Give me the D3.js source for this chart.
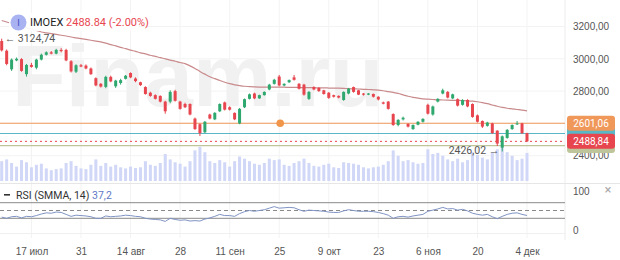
<!DOCTYPE html>
<head>
    <meta charset="utf-8">
    <script src="https://d3js.org/d3.v7.min.js"></script>
    <style>
        body { margin: 0; background: #fff; }
        svg { display: block; font-family: Roboto, "Noto Sans", sans-serif; }
        .axis text { fill: #555; font-size: 10px; }
        .axis path, .axis line { display: none; }
    </style>
</head>

<body>
    <svg id="chart" width="620" height="260"></svg>
</body>
<script>
    // trading days, IMOEX daily
    var dates = [
        "2024-07-09","2024-07-10","2024-07-11","2024-07-12","2024-07-15","2024-07-16","2024-07-17","2024-07-18","2024-07-19",
        "2024-07-22","2024-07-23","2024-07-24","2024-07-25","2024-07-26","2024-07-29","2024-07-30","2024-07-31",
        "2024-08-01","2024-08-02","2024-08-05","2024-08-06","2024-08-07","2024-08-08","2024-08-09","2024-08-12",
        "2024-08-13","2024-08-14","2024-08-15","2024-08-16","2024-08-19","2024-08-20","2024-08-21","2024-08-22",
        "2024-08-23","2024-08-26","2024-08-27","2024-08-28","2024-08-29","2024-08-30",
        "2024-09-02","2024-09-03","2024-09-04","2024-09-05","2024-09-06","2024-09-09","2024-09-10","2024-09-11",
        "2024-09-12","2024-09-13","2024-09-16","2024-09-17","2024-09-18","2024-09-19","2024-09-20","2024-09-23",
        "2024-09-24","2024-09-25","2024-09-26","2024-09-27","2024-09-30",
        "2024-10-01","2024-10-02","2024-10-03","2024-10-04","2024-10-07","2024-10-08","2024-10-09","2024-10-10",
        "2024-10-11","2024-10-14","2024-10-15","2024-10-16","2024-10-17","2024-10-18","2024-10-21","2024-10-22",
        "2024-10-23","2024-10-24","2024-10-25","2024-10-28","2024-10-29","2024-10-30","2024-10-31",
        "2024-11-01","2024-11-02","2024-11-05","2024-11-06","2024-11-07","2024-11-08","2024-11-11","2024-11-12",
        "2024-11-13","2024-11-14","2024-11-15","2024-11-18","2024-11-19","2024-11-20","2024-11-21","2024-11-22",
        "2024-11-25","2024-11-26","2024-11-27","2024-11-28","2024-11-29",
        "2024-12-02","2024-12-03","2024-12-04"
    ]
    var open = [
        3110, 3050, 2935, 2990, 2998, 2905, 2962, 2945, 2995, 3025,
        3040, 3032, 3055, 3055, 2985, 2920, 2960, 2958, 2940, 2880,
        2845, 2826, 2888, 2830, 2850, 2876, 2912, 2878, 2855, 2825,
        2790, 2775, 2770, 2735, 2735, 2800, 2735, 2720, 2720, 2630,
        2595, 2545, 2655, 2625, 2675, 2730, 2700, 2665, 2600, 2700,
        2752, 2785, 2755, 2775, 2810, 2845, 2890, 2835, 2855, 2885,
        2845, 2840, 2752, 2825, 2820, 2805, 2790, 2775, 2770, 2745,
        2785, 2825, 2805, 2785, 2778, 2782, 2765, 2730, 2735, 2658,
        2590, 2625, 2597, 2565, 2592, 2610, 2715, 2655, 2735, 2785,
        2795, 2755, 2750, 2715, 2745, 2720, 2650, 2615, 2585, 2600,
        2555, 2450, 2510, 2565, 2595, 2600, 2539.63
    ]
    var high = [
        3124.74, 3058, 3002, 3008, 3004, 2968, 2975, 3000, 3032, 3046,
        3048, 3062, 3066, 3062, 2992, 2966, 2968, 2965, 2946, 2885,
        2850, 2895, 2896, 2870, 2876, 2900, 2916, 2885, 2858, 2830,
        2796, 2780, 2774, 2740, 2805, 2808, 2740, 2728, 2724, 2636,
        2600, 2615, 2660, 2670, 2724, 2735, 2706, 2668, 2695, 2754,
        2785, 2790, 2778, 2798, 2845, 2876, 2900, 2848, 2872, 2900,
        2850, 2845, 2800, 2830, 2824, 2808, 2794, 2778, 2774, 2798,
        2820, 2828, 2808, 2788, 2788, 2785, 2768, 2735, 2738, 2662,
        2626, 2642, 2600, 2594, 2614, 2632, 2722, 2710, 2756, 2815,
        2800, 2784, 2755, 2750, 2750, 2724, 2655, 2618, 2610, 2604,
        2558, 2525, 2565, 2594, 2615, 2604, 2542
    ]
    var low = [
        3045, 2960, 2925, 2985, 2920, 2890, 2945, 2935, 2990, 3020,
        3028, 3028, 3040, 2985, 2915, 2912, 2948, 2935, 2900, 2830,
        2822, 2818, 2855, 2820, 2840, 2872, 2880, 2855, 2832, 2778,
        2765, 2748, 2730, 2660, 2725, 2735, 2685, 2695, 2650, 2560,
        2522, 2540, 2625, 2620, 2670, 2680, 2680, 2620, 2595, 2695,
        2748, 2750, 2752, 2772, 2805, 2840, 2830, 2830, 2850, 2865,
        2810, 2772, 2745, 2805, 2795, 2778, 2752, 2760, 2755, 2740,
        2780, 2790, 2775, 2772, 2775, 2760, 2742, 2718, 2685, 2585,
        2582, 2618, 2575, 2560, 2588, 2605, 2655, 2648, 2730, 2780,
        2755, 2750, 2705, 2710, 2700, 2635, 2605, 2572, 2580, 2535,
        2460, 2426.02, 2505, 2560, 2590, 2535, 2485
    ]
    var close = [
        3052, 2968, 2995, 3000, 2925, 2962, 2950, 2995, 3025, 3040,
        3032, 3055, 3048, 2990, 2922, 2960, 2952, 2940, 2905, 2835,
        2828, 2888, 2860, 2865, 2868, 2895, 2885, 2862, 2837, 2782,
        2770, 2752, 2735, 2675, 2795, 2740, 2690, 2700, 2655, 2565,
        2540, 2610, 2630, 2665, 2720, 2685, 2685, 2625, 2690, 2750,
        2780, 2755, 2775, 2795, 2840, 2870, 2835, 2845, 2868, 2870,
        2815, 2778, 2795, 2810, 2800, 2782, 2758, 2765, 2760, 2795,
        2815, 2795, 2778, 2778, 2785, 2765, 2748, 2722, 2690, 2590,
        2622, 2635, 2580, 2590, 2610, 2628, 2660, 2705, 2752, 2805,
        2760, 2780, 2710, 2745, 2705, 2640, 2610, 2580, 2605, 2540,
        2475, 2520, 2560, 2590, 2600, 2539.63, 2488.84
    ]
    // volume, bln rub
    var volume = [
        55, 60, 50, 40, 58, 52, 38, 45, 48, 35,
        30, 33, 35, 50, 55, 42, 35, 33, 45, 60,
        42, 50, 40, 45, 38, 35, 40, 36, 38, 55,
        45, 42, 50, 75, 60, 52, 48, 40, 55, 85,
        95, 80, 55, 50, 58, 52, 40, 55, 68, 62,
        55, 48, 45, 50, 62, 58, 60, 45, 42, 50,
        55, 62, 50, 42, 40, 45, 48, 38, 36, 52,
        50, 48, 45, 38, 35, 38, 40, 45, 55, 85,
        70, 55, 58, 52, 48, 50, 88, 75, 78, 70,
        60, 55, 62, 52, 58, 80, 72, 65, 60, 80,
        88, 95, 80, 70, 58, 62, 78
    ]
    // moving average
    var ma = [
        3237, 3228, 3219, 3210, 3201, 3193, 3184, 3175, 3166, 3161,
        3156, 3151, 3146, 3141, 3135, 3130, 3125, 3120, 3115, 3110,
        3105, 3097, 3088, 3080, 3071, 3063, 3054, 3046, 3037, 3030,
        3022, 3015, 3007, 3000, 2992, 2985, 2977, 2970, 2956, 2940,
        2922, 2905, 2889, 2877, 2866, 2855, 2846, 2839, 2834, 2830,
        2828, 2826, 2825, 2825, 2825, 2825, 2824, 2824, 2823, 2823,
        2822, 2822, 2821, 2821, 2820, 2820, 2819, 2818, 2818, 2817,
        2815, 2814, 2813, 2811, 2810, 2808, 2806, 2802, 2797, 2792,
        2786, 2777, 2768, 2761, 2756, 2752, 2750, 2748, 2746, 2745,
        2744, 2743, 2742, 2741, 2740, 2738, 2734, 2729, 2722, 2714,
        2706, 2699, 2694, 2690, 2686, 2682, 2677
    ]
    // RSI (SMMA, 14)
    var rsi = [
        33, 30, 34, 35, 31, 35, 34, 37, 41, 44,
        43, 46, 45, 40, 35, 38, 37, 36, 34, 30,
        30, 36, 34, 35, 36, 38, 37, 35, 34, 30,
        28, 27, 26, 22, 30, 27, 25, 26, 23, 24,
        23, 28, 31, 35, 40, 37, 37, 35, 42, 47,
        50, 48, 50, 52, 56, 60, 56, 57, 58, 57,
        52, 48, 51, 50, 49, 48, 46, 45, 45, 49,
        52, 50, 48, 48, 48, 47, 45, 42, 38, 30,
        34, 35, 33, 36, 38, 40, 48, 51, 54, 58,
        54, 55, 51, 53, 49, 43, 40, 38, 40, 34,
        29, 35, 40, 43, 44, 40, 37.2
    ]
    var levelValues = [2537.5, 2463, 2601.06]
    var priceTicks = [2400, 2600, 2800, 3000, 3200]
    var rsiTicks = [0, 100]
    var rsiBands = [30, 70]
    var tickDates = ["2024-07-17","2024-07-31","2024-08-14","2024-08-28","2024-09-11","2024-09-25",
        "2024-10-09","2024-10-23","2024-11-06","2024-11-20","2024-12-04"]
    var tickLabels = ["17 июл","31","14 авг","28","11 сен","25","9 окт","23","6 ноя","20","4 дек"]

    var red = "#e8464f", green = "#2fa86f"
    var plotRight = 565
    var ru = d3.formatLocale({decimal: ",", thousands: "", grouping: [3], currency: ["", ""]})
    var fmt = ru.format(".2f")

    var svg = d3.select("#chart")
    var x = d3.scalePoint().domain(dates).range([1.7, 527])
    var y = d3.scaleLinear().domain([2400, 3200]).range([155.7, 26.5])
    var yVol = d3.scaleLinear().domain([0, 100]).range([181, 145])
    var yRsi = d3.scaleLinear().domain([0, 100]).range([230, 191])

    var bars = dates.map(function (d, i) {
        return {date: d, o: open[i], h: high[i], l: low[i], c: close[i], v: volume[i], ma: ma[i], rsi: rsi[i]}
    })

    // grid
    svg.append("g").selectAll("line").data(tickDates).enter().append("line")
        .attr("x1", d => x(d)).attr("x2", d => x(d))
        .attr("y1", 0).attr("y2", 238)
        .attr("stroke", "#f3f3f3")
    svg.append("g").selectAll("line").data(priceTicks).enter().append("line")
        .attr("x1", 0).attr("x2", plotRight)
        .attr("y1", d => y(d)).attr("y2", d => y(d))
        .attr("stroke", "#f3f3f3")

    // watermark
    svg.append("text")
        .attr("x", 12).attr("y", 106)
        .attr("font-family", "Liberation Sans, Arial, sans-serif")
        .attr("font-weight", "bold").attr("font-size", 88)
        .attr("fill", "#f1f1f1")
        .text("Finam.ru")

    svg.append("line").attr("x1", plotRight).attr("x2", plotRight).attr("y1", 0).attr("y2", 240).attr("stroke", "#ececec")
    svg.append("line").attr("x1", 0).attr("x2", 620).attr("y1", 183.5).attr("y2", 183.5).attr("stroke", "#e6e6e6")
    svg.append("line").attr("x1", 0).attr("x2", plotRight).attr("y1", 233.5).attr("y2", 233.5).attr("stroke", "#f0f0f0")

    // volume
    svg.append("g").selectAll("rect").data(bars).enter().append("rect")
        .attr("x", d => x(d.date) - 1.5).attr("width", 3)
        .attr("y", d => yVol(d.v)).attr("height", d => yVol(0) - yVol(d.v))
        .attr("fill", "#d0d7f7")

    // horizontal levels
    var levelColors = ["#5ab8c6", "#bfc59a", "#f0975a"]
    svg.append("g").selectAll("line").data(levelValues).enter().append("line")
        .attr("x1", 0).attr("x2", plotRight)
        .attr("y1", d => y(d)).attr("y2", d => y(d))
        .attr("stroke", (d, i) => levelColors[i]).attr("stroke-width", 1.2)
    svg.append("circle")
        .attr("cx", x(dates[56]) + 1).attr("cy", y(levelValues[2]))
        .attr("r", 3.8).attr("fill", "#f0954a")

    var last = close[close.length - 1]
    svg.append("line")
        .attr("x1", 0).attr("x2", plotRight)
        .attr("y1", y(last)).attr("y2", y(last))
        .attr("stroke", red).attr("stroke-dasharray", "2,3")

    // moving average
    svg.append("path").datum(bars)
        .attr("d", d3.line().x(d => x(d.date)).y(d => y(d.ma)).curve(d3.curveMonotoneX))
        .attr("fill", "none").attr("stroke", "#c98a8c").attr("stroke-width", 1.2)

    // candles
    var candle = svg.append("g").selectAll("g").data(bars).enter().append("g")
        .attr("fill", d => d.c >= d.o ? green : red)
        .attr("stroke", d => d.c >= d.o ? green : red)
    candle.append("line")
        .attr("x1", d => x(d.date)).attr("x2", d => x(d.date))
        .attr("y1", d => y(d.h)).attr("y2", d => y(d.l))
    candle.append("rect")
        .attr("stroke", "none")
        .attr("x", d => x(d.date) - 1.5).attr("width", 3)
        .attr("y", d => y(Math.max(d.o, d.c)))
        .attr("height", d => Math.max(1, Math.abs(y(d.o) - y(d.c))))

    // high / low marks
    var iHigh = d3.maxIndex(high), iLow = d3.minIndex(low)
    svg.append("text")
        .attr("x", x(dates[iHigh]) + 3).attr("y", y(high[iHigh])).attr("dy", "0.35em")
        .attr("font-size", 10.5).attr("fill", "#555")
        .text("\u2190 " + fmt(high[iHigh]))
    svg.append("text")
        .attr("x", x(dates[iLow]) - 3).attr("y", y(low[iLow]) - 1).attr("dy", "0.35em")
        .attr("text-anchor", "end")
        .attr("font-size", 10.5).attr("fill", "#555")
        .text(fmt(low[iLow]) + " \u2192")

    // legend
    svg.append("rect").attr("x", 9).attr("y", 13).attr("width", 130).attr("height", 18).attr("rx", 4)
        .attr("fill", "#fff").attr("fill-opacity", 0.92)
    svg.append("circle").attr("cx", 18.5).attr("cy", 22.5).attr("r", 8).attr("fill", "#aab3f2")
    svg.append("text").attr("x", 18.5).attr("y", 22.5).attr("dy", "0.35em").attr("text-anchor", "middle")
        .attr("font-size", 9).attr("fill", "#3f4fc2").text("I")
    var leg = svg.append("text").attr("x", 30).attr("y", 22.5).attr("dy", "0.35em").attr("font-size", 11)
    leg.append("tspan").attr("fill", "#222").text("IMOEX ")
    leg.append("tspan").attr("fill", red)
        .text(fmt(last).replace(",", ".") + " (" + ((last / close[close.length - 2] - 1) * 100).toFixed(2) + "%)")

    // price axis
    svg.append("g").attr("class", "axis").attr("transform", "translate(570,0)")
        .call(d3.axisRight(y).tickValues(priceTicks).tickSize(0).tickPadding(3).tickFormat(fmt))

    // price labels on axis (teal and olive ones sit under the others)
    var boxVals = levelValues.concat([last])
    var boxColors = levelColors.concat([red])
    var showText = [false, false, true, true]
    var box = svg.append("g").selectAll("g").data(boxVals).enter().append("g")
        .attr("transform", d => "translate(567," + (y(d) - 7.5) + ")")
    box.append("rect").attr("width", 48).attr("height", 15).attr("rx", 3)
        .attr("fill", (d, i) => boxColors[i])
    box.filter((d, i) => showText[i]).append("text")
        .attr("x", 24).attr("y", 7.5).attr("dy", "0.35em").attr("text-anchor", "middle")
        .attr("font-size", 10).attr("fill", "#fff").text(d => fmt(d))

    // RSI pane
    svg.append("g").selectAll("line").data(rsiBands).enter().append("line")
        .attr("x1", 0).attr("x2", plotRight)
        .attr("y1", d => yRsi(d)).attr("y2", d => yRsi(d))
        .attr("stroke", "#8a8a8a")
    svg.append("line").attr("x1", 0).attr("x2", plotRight)
        .attr("y1", yRsi(50)).attr("y2", yRsi(50))
        .attr("stroke", "#8a8a8a").attr("stroke-dasharray", "4,3")
    svg.append("path").datum(bars)
        .attr("d", d3.line().x(d => x(d.date)).y(d => yRsi(d.rsi)))
        .attr("fill", "none").attr("stroke", "#7f93c4").attr("stroke-width", 1)

    svg.append("rect").attr("x", 4).attr("y", 194).attr("width", 6).attr("height", 1.6).attr("fill", "#333")
    var rl = svg.append("text").attr("x", 16).attr("y", 195).attr("dy", "0.35em").attr("font-size", 10.5)
    rl.append("tspan").attr("fill", "#333").text("RSI (SMMA, 14) ")
    rl.append("tspan").attr("fill", "#5f78c6").text(ru.format(".1f")(rsi[rsi.length - 1]))

    svg.append("g").attr("class", "axis").attr("transform", "translate(570,0)")
        .call(d3.axisRight(yRsi).tickValues(rsiTicks).tickSize(0).tickPadding(3).tickFormat(d3.format("d")))
    svg.append("text").attr("x", 608).attr("y", 189).attr("dy", "0.35em").attr("text-anchor", "middle")
        .attr("font-size", 13).attr("fill", "#aaa").text("\u00d7")

    // time axis
    svg.append("g").attr("class", "axis").attr("transform", "translate(0,245)")
        .call(d3.axisBottom(x).tickValues(tickDates).tickSize(0).tickPadding(3).tickFormat((d, i) => tickLabels[i]))
</script>
